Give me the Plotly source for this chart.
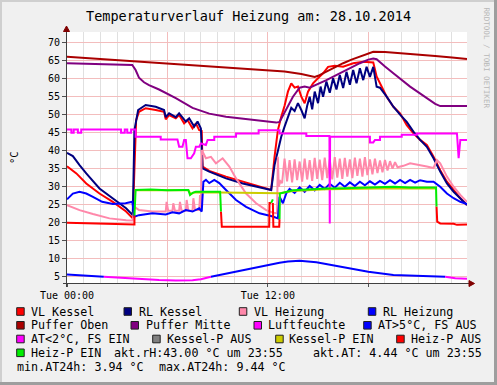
import plotly.graph_objects as go

# ---------------- data (x in hours since Tue 00:00) ----------------
vl_kessel_h = [0, 0.56, 1.15, 1.94, 2.74, 3.53, 3.93, 4.03, 4.13, 4.3, 4.7, 5.3, 5.8, 5.9, 6.1, 6.5, 6.7, 7.0, 7.2, 7.5,
               7.7, 7.9, 8.05, 8.1, 8.5, 9.5, 10.5, 11.5, 12.2, 12.4, 12.6, 12.8, 13.0, 13.2, 13.4, 13.6, 13.8, 14.0, 14.2, 14.4,
               14.7, 15.1, 15.3, 15.6, 16.0, 16.5, 17.1, 17.7, 18.3, 18.5, 18.7, 19.1, 19.5, 19.9, 20.3, 20.7, 21.1, 21.5, 21.9, 22.3,
               22.7, 23.1, 23.5, 23.9]
vl_kessel_v = [35.7, 33.7, 30.9, 28.1, 25.8, 23.1, 21.2, 38.3, 48.5, 50.8, 51.8, 51.3, 50.8, 48.7, 49.9, 49.0, 49.9, 47.6, 48.5, 46.2,
               47.6, 45.7, 45.5, 35.6, 34.4, 32.8, 31.4, 30.0, 29.1, 38.3, 45.7, 49.4, 52.5, 56.4, 58.7, 57.5, 57.8, 55.0, 53.2, 56.4,
               58.7, 60.6, 61.5, 63.3, 63.6, 63.3, 64.3, 64.7, 64.5, 60.6, 58.7, 55.0, 52.2, 50.4, 47.1, 44.8, 43.0, 41.6, 38.3, 34.6,
               31.4, 29.1, 26.8, 24.9]

rl_kessel_h = [0, 0.35, 0.75, 1.15, 1.94, 2.74, 3.53, 3.93, 4.03, 4.25, 4.7, 5.3, 5.8, 5.9, 6.1, 6.5, 6.7, 7.1, 7.3, 7.6,
               7.8, 8.0, 8.1, 8.5, 9.5, 10.5, 11.5, 12.2, 12.4, 12.6, 12.8, 13.0, 13.2, 13.4, 13.6, 13.8, 14.0, 14.2, 14.35, 14.5,
               14.65, 14.8, 15.0, 15.15, 15.3, 15.5, 15.7, 15.9, 16.1, 16.3, 16.5, 16.7, 16.9, 17.1, 17.3, 17.5, 17.7, 17.9, 18.1, 18.3,
               18.5, 18.7, 19.1, 19.5, 19.9, 20.3, 20.7, 21.1, 21.5, 21.9, 22.3, 22.7, 23.1, 23.5, 23.9]
rl_kessel_v = [39.4, 38.5, 36.0, 33.7, 29.5, 26.8, 24.0, 22.1, 45.7, 51.3, 52.7, 52.2, 51.3, 49.3, 50.4, 49.3, 50.4, 48.1, 49.0, 46.7,
               48.1, 46.2, 35.1, 34.2, 32.3, 30.9, 29.8, 29.1, 36.0, 40.2, 43.9, 46.7, 49.4, 51.9, 51.0, 53.2, 51.3, 49.0, 52.5, 55.0,
               51.5, 56.4, 53.2, 57.8, 55.0, 59.2, 56.1, 60.1, 57.0, 61.0, 57.4, 61.9, 58.3, 62.4, 58.7, 62.9, 59.6, 63.3, 60.5, 63.3,
               57.8, 57.5, 55.0, 52.2, 50.0, 48.0, 45.3, 43.0, 41.1, 37.9, 34.2, 30.9, 28.6, 26.8, 24.9]

vl_heizung_h = [0, 0.75, 1.55, 2.54, 3.53, 3.93, 4.03, 4.3, 5.1, 5.9, 5.95, 6.05, 6.3, 6.35, 6.45, 6.7, 6.75, 6.85, 7.1, 7.15,
                7.25, 7.5, 7.55, 7.65, 7.9, 7.95, 8.0, 8.05, 8.3, 8.6, 8.9, 9.3, 9.7, 10.1, 10.7, 11.3, 11.9, 12.3, 12.55, 12.6,
                12.65, 12.75,
                12.85, 13.0, 13.15, 13.3, 13.45, 13.6, 13.75, 13.9, 14.05, 14.2,
                14.35, 14.5, 14.65, 14.8, 14.95, 15.1, 15.25, 15.4, 15.55, 15.7,
                15.85, 16.0, 16.15, 16.3, 16.45, 16.6, 16.75, 16.9, 17.05, 17.2,
                17.35, 17.5, 17.65, 17.8, 17.95, 18.1, 18.25, 18.4, 18.55, 18.7,
                18.85, 19.0, 19.15, 19.3, 19.45, 19.6, 19.75,
                20.1, 20.5, 20.9, 21.5, 21.9, 22.1, 22.3, 22.7, 23.1, 23.5, 23.9]
vl_heizung_v = [24.9, 23.5, 22.4, 21.2, 20.7, 20.6, 24.4, 23.5, 23.1, 23.1, 25.8, 23.3, 23.3, 25.4, 23.3, 23.3, 25.8, 23.3, 23.3, 26.3,
                23.3, 23.3, 26.8, 23.5, 23.5, 27.7, 24.0, 40.2, 37.9, 38.3, 36.5, 37.9, 35.6, 32.3, 28.1, 25.4, 23.5, 22.8, 22.6, 38.3,
                30.0, 31.5,
                31.0, 37.8, 31.5, 37.4, 31.2, 37.6, 31.8, 37.0, 31.4, 37.8,
                32.0, 37.4, 31.6, 38.0, 32.2, 37.5, 31.8, 38.1, 32.4, 37.6,
                32.0, 38.2, 32.5, 37.8, 32.2, 38.0, 32.8, 37.6, 32.4, 38.1,
                33.0, 37.8, 32.8, 38.2, 33.2, 37.6, 33.4, 37.8, 33.8, 37.3,
                34.0, 37.4, 34.5, 37.1, 35.0, 36.8, 35.4,
                35.8, 36.5, 36.2, 35.6, 35.2, 37.4, 36.5, 32.8, 30.0, 27.7, 25.8]

rl_heizung_h = [0, 0.35, 0.75, 1.15, 1.55, 2.1, 2.74, 3.5, 3.9, 4.03, 4.3, 5.1, 5.9, 6.3, 6.7, 7.1, 7.5, 7.9, 8.05, 8.15,
                8.3, 8.5, 8.8, 9.1, 9.5, 10.1, 10.7, 11.5, 12.3, 12.6, 12.7, 12.9, 13.1, 13.3, 13.6, 13.9, 14.2, 14.5, 14.8, 15.1,
                15.4, 15.7, 16.0, 16.3, 16.6, 16.9, 17.2, 17.5, 17.8, 18.1, 18.4, 18.7, 19.0, 19.3, 19.6, 19.9, 20.2, 20.5, 20.8, 21.1,
                21.5, 21.9, 22.3, 22.7, 23.1, 23.5, 23.9]
rl_heizung_v = [26.5, 28.1, 28.6, 28.1, 27.2, 25.8, 25.2, 25.4, 25.8, 21.7, 22.1, 22.6, 22.3, 22.9, 22.6, 23.5, 23.1, 24.0, 23.1, 31.4,
                31.9, 31.0, 31.9, 31.0, 29.1, 26.3, 24.4, 22.6, 21.7, 21.2, 27.2, 25.4, 28.1, 29.4, 28.3, 29.8, 28.6, 30.2, 29.0, 30.5,
                29.4, 30.8, 29.7, 31.1, 30.0, 31.2, 30.2, 31.4, 30.4, 31.5, 30.6, 31.6, 30.8, 31.8, 30.9, 31.9, 31.0, 31.9, 31.1, 31.8,
                31.4, 31.4, 30.0, 28.1, 26.8, 25.8, 25.2]

puffer_oben_h = [0, 3, 6, 9, 11, 12, 13, 14, 14.8, 15.0, 15.5, 16.0, 16.5, 17.0, 17.5, 18.0, 18.3, 19.0, 20.0, 21.0, 22.0, 23.0, 23.9]
puffer_oben_v = [66.1, 65.2, 64.3, 63.4, 62.8, 62.5, 62.0, 61.3, 60.5, 60.8, 62.0, 63.2, 64.3, 65.3, 66.2, 67.0, 67.5, 67.4, 67.1, 66.7, 66.3, 65.9, 65.5]

puffer_mitte_h = [0, 2, 3.9, 4.1, 4.3, 4.6, 4.9, 5.5, 6.5, 7.5, 8.5, 9.5, 10.5, 11.5, 12.5, 12.7, 13.1, 13.5, 13.9, 14.2,
                  14.5, 15.0, 15.5, 16.0, 16.5, 17.0, 17.5, 18.0, 18.3, 18.5, 18.7, 19.0, 19.5, 20.0, 20.5, 21.0, 21.5, 22.0, 22.3, 23.0, 23.9]
puffer_mitte_v = [64.3, 64.1, 63.8, 62.4, 60.3, 59.0, 58.2, 57.0, 54.6, 51.9, 50.3, 49.4, 48.9, 48.4, 47.8, 48.0, 51.5, 55.0, 57.5, 57.8,
                  57.5, 58.5, 59.6, 60.8, 62.0, 63.2, 64.3, 65.3, 65.6, 65.4, 64.7, 63.4, 61.5, 59.6, 57.8, 56.2, 54.5, 53.0, 52.4, 52.4, 52.4]

luftfeuchte_h = [0, 0.26, 0.26, 0.4, 0.4, 0.65, 0.65, 0.85, 0.85, 3.23, 3.23, 3.45, 3.45, 3.6, 3.6, 3.83, 3.83, 4.1, 4.1, 5.6,
                 5.6, 6.6, 6.7, 6.9, 7.0, 7.1, 7.2, 7.4, 7.6, 7.7, 7.9, 8.0, 8.3, 8.4, 8.8, 8.8, 10.1, 10.1, 11.45, 11.45,
                 12.7, 12.7, 14.3, 14.3, 15.68, 15.7, 15.72, 18.1, 18.1, 18.3, 18.4, 18.7, 18.7, 20.0, 20.0, 20.9, 20.9, 23.3, 23.4, 23.5,
                 23.9]
luftfeuchte_v = [45.9, 45.9, 45.0, 45.0, 45.9, 45.9, 45.0, 45.0, 45.9, 45.9, 45.0, 45.0, 45.9, 45.9, 45.0, 45.0, 45.9, 45.9, 43.9, 43.9,
                 43.1, 43.1, 41.1, 41.1, 43.0, 43.0, 37.9, 37.9, 39.3, 41.1, 41.1, 42.0, 41.6, 43.0, 43.0, 43.9, 43.9, 44.8, 44.8, 45.7,
                 45.7, 44.8, 44.8, 44.1, 44.1, 19.8, 43.9, 43.9, 42.3, 42.3, 43.0, 43.0, 43.9, 43.9, 44.4, 44.4, 44.8, 44.8, 37.9, 43.0,
                 43.0]

at_h = [0, 0.75, 1.55, 2.2, 3.5, 4.5, 5.5, 6.5, 7.5, 8.0, 8.6, 9.5, 10.5, 11.5, 12.3, 12.7, 13.2, 13.9, 14.9, 15.5,
        16.5, 18.0, 19.5, 20.5, 21.5, 22.6, 23.2, 23.9]
at_v = [5.6, 5.4, 5.2, 5.0, 4.6, 4.3, 4.1, 3.95, 4.0, 4.3, 5.0, 5.9, 6.9, 7.9, 8.5, 8.9, 9.2, 9.4, 9.0, 8.5,
        7.6, 6.4, 5.5, 5.3, 5.2, 5.0, 4.6, 4.4]
at_threshold = 5.0

kessel_p_ein_h = [4.1, 7.25, 7.4, 7.6, 9.2, 10.5, 12.7, 13.5, 15.5, 17.5, 19.5, 22.05]
kessel_p_ein_v = [29.0, 29.0, 27.9, 28.4, 28.4, 28.3, 28.2, 28.8, 29.3, 29.4, 29.6, 29.5]

heiz_p_aus_h = [0, 2.0, 3.95, 4.03, 4.03, None, 9.2, 9.25, 10.5, 12.08, 12.1, 12.2, None, 12.3, 12.33, 12.68, 12.7, None,
                22.08, 22.12, 22.3, 23.1, 23.3, 23.9]
heiz_p_aus_v = [20.0, 19.8, 19.5, 19.5, 22.0, None, 23.1, 18.9, 18.9, 18.9, 25.5, 25.5, None, 25.5, 18.9, 18.9, 21.0, None,
                24.5, 20.3, 19.8, 19.7, 19.4, 19.5]
heiz_p_ein_h = [4.03, 4.1, 5.0, 6.0, 7.0, 7.25, 7.35, 7.5, 7.7, 8.5, 9.15, 9.2, None, 12.2, 12.3, None,
                12.7, 12.72, 13.5, 14.5, 15.5, 16.5, 17.5, 18.5, 19.5, 20.5, 21.5, 22.05, 22.08]
heiz_p_ein_v = [22.0, 29.1, 29.2, 29.0, 29.1, 29.1, 27.7, 28.3, 28.6, 28.6, 28.6, 23.1, None, 25.5, 26.5, None,
                21.0, 28.1, 29.0, 29.3, 29.5, 29.6, 29.7, 29.7, 30.0, 29.8, 29.8, 29.8, 24.5]

x_tick_vals = [0, 6, 12, 18]
x_tick_text = ["Tue 00:00", "", "Tue 12:00", ""]
y_tick_vals = [5, 10, 15, 20, 25, 30, 35, 40, 45, 50, 55, 60, 65, 70]

legend_rows = [
    [("VL Kessel", "#FF0000", 16.7, 30.0), ("RL Kessel", "#000080", 124.0, 137.6),
     ("VL Heizung", "#FF88AA", 239.3, 253.3), ("RL Heizung", "#0000FF", 368.3, 382.0)],
    [("Puffer Oben", "#AA0000", 16.7, 30.0), ("Puffer Mitte", "#800080", 131.0, 144.6),
     ("Luftfeuchte", "#FF00FF", 254.0, 266.6), ("AT>5°C, FS AUS", "#0000FF", 363.7, 377.0)],
    [("AT<2°C, FS EIN", "#FF00FF", 16.7, 30.0), ("Kessel-P AUS", "#808080", 152.7, 166.0),
     ("Kessel-P EIN", "#CCCC00", 275.7, 287.6), ("Heiz-P AUS", "#FF0000", 396.7, 410.0)],
    [("Heiz-P EIN", "#00EE00", 16.7, 30.0)],
]
legend_texts = [("akt.rH:43.00 °C um 23:55", 112.6, 3), ("akt.AT: 4.44 °C um 23:55", 312.0, 3),
                ("min.AT24h: 3.94 °C", 16.0, 4), ("max.AT24h: 9.44 °C", 158.3, 4)]
row_y = [311.5, 325.3, 339.0, 352.8, 366.5]

# ---------------- geometry ----------------
W, H = 497, 385
L, R, T, B = 67, 467, 32, 283


def px(x):
    return (x - L) / (R - L)


def py(y):
    return (B - y) / (B - T)


fig = go.Figure()


def line(h, v, color, width=2):
    fig.add_trace(go.Scatter(x=h, y=v, mode="lines", line=dict(color=color, width=width),
                             hoverinfo="skip", showlegend=False, connectgaps=False))


line(vl_kessel_h, vl_kessel_v, "#FF0000")
line(rl_kessel_h, rl_kessel_v, "#000080")
line(vl_heizung_h, vl_heizung_v, "#FF88AA")
line(rl_heizung_h, rl_heizung_v, "#0000FF")
line(puffer_oben_h, puffer_oben_v, "#AA0000")
line(puffer_mitte_h, puffer_mitte_v, "#800080")
line(luftfeuchte_h, luftfeuchte_v, "#FF00FF")
line(at_h, [v if v >= at_threshold else None for v in at_v], "#0000FF")
line(at_h, [v if v <= at_threshold else None for v in at_v], "#FF00FF")
line(kessel_p_ein_h, kessel_p_ein_v, "#CCCC00")
line(heiz_p_aus_h, heiz_p_aus_v, "#FF0000")
line(heiz_p_ein_h, heiz_p_ein_v, "#00EE00")

MONO = "DejaVu Sans Mono"
fig.update_layout(
    width=W, height=H,
    margin=dict(l=L, r=W - R, t=T, b=H - B, autoexpand=False),
    paper_bgcolor="#F0F0F0", plot_bgcolor="#FFFFFF",
    font=dict(family=MONO, size=10, color="#000000"),
    hovermode=False,
    xaxis=dict(range=[0, 23.9], tickmode="array", tickvals=x_tick_vals, ticktext=x_tick_text,
               showgrid=True, gridcolor="#F3BDBD", gridwidth=1, zeroline=False, showline=False,
               ticks="outside", ticklen=3, tickcolor="#505050",
               minor=dict(dtick=1, tick0=0, showgrid=True, gridcolor="#E0E0E0", ticks=""),
               tickfont=dict(family=MONO, size=10), fixedrange=True),
    yaxis=dict(range=[3.25, 72.97], tickmode="array", tickvals=y_tick_vals,
               showgrid=True, gridcolor="#F3BDBD", gridwidth=1, zeroline=False, showline=False,
               ticks="outside", ticklen=4, tickcolor="#505050",
               tickfont=dict(family=MONO, size=10), fixedrange=True),
)

shapes = []
# frame (shade A / shade B)
shapes.append(dict(type="rect", xref="paper", yref="paper", x0=px(0), x1=px(W), y0=py(0), y1=py(2),
                   fillcolor="#CFCFCF", line=dict(width=0), layer="above"))
shapes.append(dict(type="rect", xref="paper", yref="paper", x0=px(0), x1=px(2), y0=py(0), y1=py(H),
                   fillcolor="#CFCFCF", line=dict(width=0), layer="above"))
shapes.append(dict(type="rect", xref="paper", yref="paper", x0=px(494), x1=px(W), y0=py(0), y1=py(H),
                   fillcolor="#9E9E9E", line=dict(width=0), layer="above"))
shapes.append(dict(type="rect", xref="paper", yref="paper", x0=px(0), x1=px(W), y0=py(382), y1=py(H),
                   fillcolor="#9E9E9E", line=dict(width=0), layer="above"))
# axes
shapes.append(dict(type="line", xref="paper", yref="paper", x0=px(63), x1=px(470), y0=py(283.5), y1=py(283.5),
                   line=dict(color="#404040", width=1), layer="above"))
shapes.append(dict(type="line", xref="paper", yref="paper", x0=px(66.5), x1=px(66.5), y0=py(287), y1=py(29),
                   line=dict(color="#404040", width=1), layer="above"))
# arrows
shapes.append(dict(type="path", xref="paper", yref="paper",
                   path=f"M {px(469)} {py(280.5)} L {px(474.5)} {py(283.5)} L {px(469)} {py(286.5)} Z",
                   fillcolor="#800000", line=dict(color="#800000", width=1), layer="above"))
shapes.append(dict(type="path", xref="paper", yref="paper",
                   path=f"M {px(63.5)} {py(31.5)} L {px(66.5)} {py(26)} L {px(69.5)} {py(31.5)} Z",
                   fillcolor="#800000", line=dict(color="#800000", width=1), layer="above"))

annotations = []
annotations.append(dict(text="Temperaturverlauf Heizung am: 28.10.2014", xref="paper", yref="paper",
                        x=px(248.5), y=py(16), xanchor="center", yanchor="middle", showarrow=False,
                        font=dict(family=MONO, size=13.5, color="#000000")))
annotations.append(dict(text="°C", xref="paper", yref="paper", x=px(14), y=py(158), textangle=-90,
                        xanchor="center", yanchor="middle", showarrow=False,
                        font=dict(family=MONO, size=10.5, color="#000000")))
annotations.append(dict(text="RRDTOOL / TOBI OETIKER", xref="paper", yref="paper", x=px(486), y=py(57.5),
                        textangle=90, xanchor="center", yanchor="middle", showarrow=False,
                        font=dict(family=MONO, size=7.6, color="#B8B8B8")))

LEG_FONT = dict(family=MONO, size=11.7, color="#000000")
for r, row in enumerate(legend_rows):
    cy = row_y[r]
    for label, color, sx, tx in row:
        shapes.append(dict(type="rect", xref="paper", yref="paper", x0=px(sx), x1=px(sx + 7.5),
                           y0=py(cy - 3.8), y1=py(cy + 3.8), fillcolor=color,
                           line=dict(color="#202020", width=1), layer="above"))
        annotations.append(dict(text=label, xref="paper", yref="paper", x=px(tx), y=py(cy),
                                xanchor="left", yanchor="middle", showarrow=False, borderpad=0,
                                font=LEG_FONT))
for label, tx, r in legend_texts:
    annotations.append(dict(text=label, xref="paper", yref="paper", x=px(tx), y=py(row_y[r]),
                            xanchor="left", yanchor="middle", showarrow=False, borderpad=0,
                            font=LEG_FONT))

fig.update_layout(shapes=shapes, annotations=annotations)
fig.write_html("out.html", config={"displayModeBar": False},
               post_script="document.body.style.margin='0';document.body.style.overflow='hidden';")
